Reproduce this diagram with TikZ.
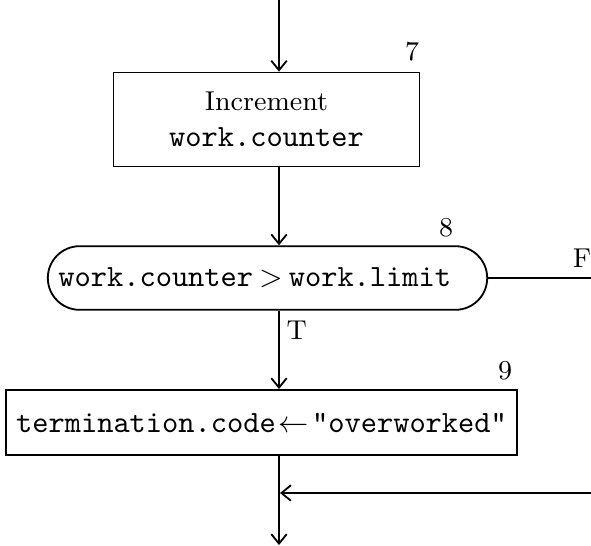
\documentclass[tikz,border=0pt]{standalone}
\usetikzlibrary{arrows.meta,positioning}
\newcommand{\codefont}{\fontsize{10.2}{12.5}\selectfont\ttfamily}
\tikzset{
  procbox/.style={draw,line width=0.6pt,inner sep=1pt,align=center,font=\small},
  testpill/.style={draw,line width=0.6pt,rounded corners=10.5pt,minimum height=21pt,inner sep=1pt,font=\codefont},
  flow/.style={-{Straight Barb[length=1.1mm,width=1.8mm]},line width=0.6pt},
  plain/.style={line width=0.6pt},
  tag/.style={font=\small,inner sep=0pt}
}

\begin{document}
\begin{tikzpicture}[x=0.33pt,y=-0.33pt]
    \useasboundingbox (0,0) rectangle (591,545);
    \coordinate (in) at (279,0);
    \node[procbox,minimum width=101pt,minimum height=31pt] (incr) at (266.5,119.5) {Increment\\[1pt]{\codefont work.counter}};
    \node[testpill,minimum width=145pt,text width=140pt,align=left] (test) at (267.5,278) {\hspace{1pt}work.counter\hspace{2pt}$>$\hspace{2pt}work.limit};
    \node[procbox,font=\codefont,minimum width=168.6pt,minimum height=21.5pt] (term) at (261.5,422.5) {termination.code\kern1pt$\leftarrow$\kern1pt"overworked"};

    \node[tag] (n7) at (412,52) {7};
    \node[tag] (n8) at (446,228) {8};
    \node[tag] (n9) at (505,371) {9};

    \coordinate (fout) at (591,278);
    \coordinate (fin) at (591,493);
    \coordinate (join) at (280,493);
    \coordinate (out) at (279,545);

    \draw[flow] (in) -- (in |- incr.north);
    \draw[flow] (in |- incr.south) -- (in |- test.north);
    \draw[plain] (test.east) -- (fout);
    \node[tag] (f) at (582,258) {F};
    \draw[flow] (in |- test.south) -- (in |- term.north);
    \node[tag,anchor=west] (t) at (286,330) {T};
    \draw[flow] (in |- term.south) -- (out);
    \draw[flow] (fin) -- (join);
  \end{tikzpicture}
\end{document}
